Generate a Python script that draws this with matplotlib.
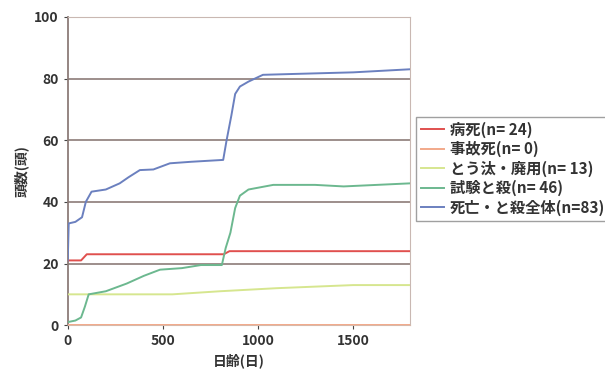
import numpy as np
import matplotlib.pyplot as plt

plt.rcParams['font.family'] = ['Noto Sans CJK JP', 'DejaVu Sans']

# 日齢(日) と頭数(頭) - 図から読み取り
byoshi_x = [0, 70, 100, 820, 850, 1800]
byoshi_y = [21, 21, 23, 23, 24, 24]

jiko_x = [0, 1800]
jiko_y = [0, 0]

touta_x = [0, 550, 800, 1100, 1500, 1800]
touta_y = [10, 10, 11, 12, 13, 13]

shiken_x = [0, 40, 70, 90, 110, 200, 310, 400, 485, 600, 700, 810, 830, 855, 880, 905, 950, 1080, 1300, 1450, 1800]
shiken_y = [1, 1.5, 2.5, 6, 10, 11, 13.5, 16, 18, 18.5, 19.5, 19.5, 25, 30, 38, 42, 44, 45.5, 45.5, 45, 46]

zentai_x = [0, 5, 40, 75, 95, 125, 200, 273, 320, 379, 450, 537, 650, 817, 835, 860, 880, 905, 950, 1026, 1200, 1500, 1800]
zentai_y = [21, 33, 33.5, 35, 40, 43.3, 44, 46, 48, 50.3, 50.5, 52.5, 53, 53.6, 60, 68, 75, 77.4, 79, 81.2, 81.5, 82, 83]

series = [
    (byoshi_x, byoshi_y, '病死(n= 24)', '#e0504e'),
    (jiko_x, jiko_y, '事故死(n= 0)', '#f2a98a'),
    (touta_x, touta_y, 'とう汰・廃用(n= 13)', '#d6e68f'),
    (shiken_x, shiken_y, '試験と殺(n= 46)', '#6cb88f'),
    (zentai_x, zentai_y, '死亡・と殺全体(n=83)', '#6b80bf'),
]

fig = plt.figure(figsize=(6.05, 3.83), dpi=100)
ax = fig.add_axes([0.112, 0.151, 0.566, 0.805])

for yv in [20, 40, 60, 80]:
    ax.axhline(yv, color='#8c7c78', lw=1.2, zorder=1)

for x, y, lab, col in series:
    ax.plot(x, y, color=col, lw=1.4, label=lab, zorder=3)

ax.set_xlim(0, 1800)
ax.set_ylim(0, 100)
ax.set_xticks([0, 500, 1000, 1500])
ax.set_yticks([0, 20, 40, 60, 80, 100])
ax.tick_params(labelsize=10, colors='#444444', length=3, labelcolor='#333333')
for lbl in ax.get_xticklabels() + ax.get_yticklabels():
    lbl.set_fontweight('bold')

for s in ['top', 'right']:
    ax.spines[s].set_color('#c9b8b2')
ax.spines['left'].set_color('#8c7c78')
ax.spines['left'].set_linewidth(1.3)
ax.spines['bottom'].set_color('#d8b8a8')

ax.set_xlabel('日齢(日)', fontsize=10, fontweight='bold', color='#333333')
ax.set_ylabel('頭数(頭)', fontsize=10, fontweight='bold', color='#333333')

leg = fig.legend(loc='upper left', bbox_to_anchor=(0.688, 0.695), fontsize=11,
                 frameon=True, fancybox=False, edgecolor='#888888',
                 handlelength=1.5, handletextpad=0.4, labelspacing=0.22,
                 borderpad=0.3, borderaxespad=0)
leg.get_frame().set_linewidth(1.0)
for t in leg.get_texts():
    t.set_fontweight('bold')
    t.set_color('#333333')

fig.savefig('out.png', dpi=100)
